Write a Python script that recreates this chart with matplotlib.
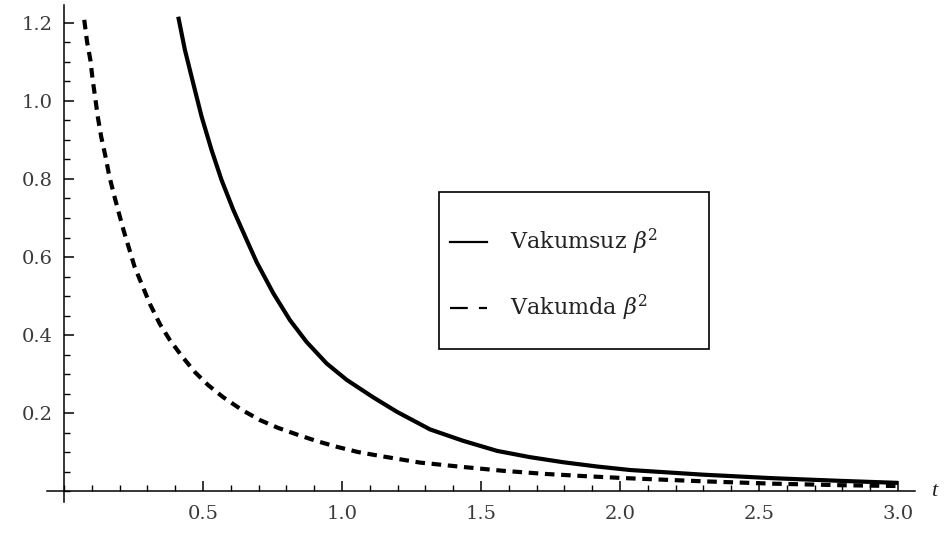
import numpy as np
import matplotlib
matplotlib.use("Agg")
import matplotlib.pyplot as plt
from matplotlib.lines import Line2D
from matplotlib.patches import Rectangle
from matplotlib.ticker import MultipleLocator, FixedLocator

plt.rcParams["font.family"] = ["DejaVu Serif"]
plt.rcParams["mathtext.fontset"] = "dejavuserif"

# ---------- Data ----------
t_solid = [0.411, 0.435, 0.465, 0.495, 0.531, 0.567, 0.609, 0.657, 0.693, 0.753,
           0.813, 0.873, 0.945, 1.017, 1.113, 1.198, 1.317, 1.435, 1.558, 1.676,
           1.795, 1.917, 2.036, 2.3, 2.55, 2.8, 3.0]
beta2_solid = [1.216, 1.131, 1.045, 0.960, 0.874, 0.797, 0.721, 0.644, 0.587, 0.507,
               0.438, 0.382, 0.327, 0.285, 0.240, 0.203, 0.158, 0.129, 0.103, 0.087,
               0.074, 0.063, 0.054, 0.042, 0.033, 0.026, 0.021]

t_dashed = [0.073, 0.083, 0.095, 0.103, 0.113, 0.122, 0.134, 0.149, 0.163, 0.179,
            0.197, 0.215, 0.235, 0.254, 0.309, 0.345, 0.381, 0.424, 0.471, 0.518,
            0.572, 0.64, 0.705, 0.77, 0.842, 0.91, 0.984, 1.058, 1.137, 1.281,
            1.432, 1.579, 1.73, 1.88, 2.025, 2.3, 2.55, 2.8, 3.0]
beta2_dashed = [1.208, 1.152, 1.105, 1.056, 1.005, 0.958, 0.908, 0.859, 0.808, 0.762,
                0.714, 0.667, 0.620, 0.575, 0.480, 0.428, 0.387, 0.346, 0.305, 0.272,
                0.241, 0.208, 0.182, 0.162, 0.144, 0.128, 0.113, 0.100, 0.090, 0.073,
                0.062, 0.052, 0.044, 0.038, 0.033, 0.025, 0.019, 0.015, 0.013]

labels = [r"Vakumsuz $\beta^2$", r"Vakumda $\beta^2$"]
x_major = [0.5, 1.0, 1.5, 2.0, 2.5, 3.0]
y_major = [0.2, 0.4, 0.6, 0.8, 1.0, 1.2]

# ---------- Figure ----------
W, H = 946, 535
fig = plt.figure(figsize=(W / 100, H / 100), dpi=100)
ax = fig.add_axes([47 / W, 1 - 502 / H, (915 - 47) / W, (502 - 5) / H])

ax.plot(t_solid, beta2_solid, color="black", lw=3.0, solid_capstyle="butt",
        solid_joinstyle="round")
ax.plot(t_dashed, beta2_dashed, color="black", lw=3.0,
        linestyle=(0, (2.3, 1.6)), dash_capstyle="butt")

ax.set_xlim(-0.061, 3.061)
ax.set_ylim(-0.028, 1.246)

for s in ["top", "right"]:
    ax.spines[s].set_visible(False)
for s in ["left", "bottom"]:
    ax.spines[s].set_position(("data", 0))
    ax.spines[s].set_linewidth(1.1)

ax.xaxis.set_major_locator(FixedLocator(x_major))
ax.yaxis.set_major_locator(FixedLocator(y_major))
ax.xaxis.set_minor_locator(MultipleLocator(0.1))
ax.yaxis.set_minor_locator(MultipleLocator(0.05))
ax.set_xticklabels([f"{v:.1f}" for v in x_major])
ax.set_yticklabels([f"{v:.1f}" for v in y_major])

ax.tick_params(which="major", direction="in", length=7.5, width=1.1,
               labelsize=14, labelcolor="#3a3a3a")
ax.tick_params(which="minor", direction="in", length=4, width=1.0)
ax.tick_params(axis="x", which="major", pad=10)
ax.tick_params(axis="y", which="major", pad=8)

ax.text(3.13, 0.0, "t", style="italic", fontsize=16, color="#222222",
        va="center", ha="center", family=["Liberation Serif", "DejaVu Serif"])

# ---------- Legend box (drawn by hand, Mathematica style) ----------
def fx(px):
    return px / W


def fy(py):
    return 1 - py / H


fig.patches.append(Rectangle((fx(439), fy(349)), fx(709) - fx(439), fy(192) - fy(349),
                             transform=fig.transFigure, fill=False,
                             edgecolor="black", lw=1.2))
fig.lines.append(Line2D([fx(450), fx(487)], [fy(242), fy(242)],
                        transform=fig.transFigure, color="black", lw=1.6))
fig.lines.append(Line2D([fx(450), fx(487)], [fy(308), fy(308)],
                        transform=fig.transFigure, color="black", lw=1.6,
                        linestyle=(0, (8, 5)), dash_capstyle="butt"))
fig.text(fx(510), fy(249), labels[0], fontsize=16, color="#222222", va="baseline")
fig.text(fx(510), fy(315), labels[1], fontsize=16, color="#222222", va="baseline")

fig.savefig("out.png", dpi=100, facecolor="white")
